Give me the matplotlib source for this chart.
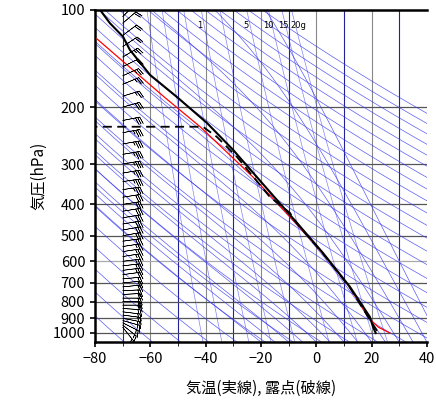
import numpy as np
import matplotlib
matplotlib.use("Agg")
import matplotlib.pyplot as plt

plt.rcParams['font.family'] = ['Noto Sans CJK JP', 'DejaVu Sans']

# sounding
temp_p = [1000, 956, 892, 720, 565, 456, 329, 271, 224, 186, 159, 133, 121, 110, 100]
temp_t = [21.5, 20.5, 19.4, 12.2, 2.4, -7.0, -21.5, -30.1, -39.5, -50.4, -60.1, -67.4, -69.9, -74.6, -78.2]
dew_p = [985, 910, 720, 565, 456, 425, 379, 285, 247, 230, 230]
dew_t = [22.0, 19.4, 12.0, 2.2, -7.2, -9.5, -16.8, -28.7, -36.0, -41.0, -80.0]
parcel_p = [1000, 960, 900, 720, 565, 456, 329, 230, 186, 123]
parcel_t = [26.6, 22.5, 19.0, 12.0, 2.2, -7.5, -22.9, -42.0, -55.0, -79.3]
# wind barbs (kt)
wind_p = [960, 945, 930, 915, 900, 880, 860, 840, 820, 800, 780, 760, 740, 720, 700, 680, 660,
          640, 620, 600, 580, 560, 540, 520, 500, 480, 460, 440, 420, 400, 380, 360, 340, 320,
          300, 280, 260, 240, 220, 200, 185, 170, 160, 150, 140, 130, 120, 110, 105]
wind_u = [-8, -10, -12, -14, -15, -15, -16, -16, -17, -18, -18, -18, -20, -20, -20, -22, -22,
          -24, -24, -25, -25, -26, -26, -28, -28, -28, -30, -30, -30, -32, -32, -34, -34, -35,
          -35, -35, -34, -32, -30, -28, -26, -24, -22, -20, -20, -18, -16, -14, -12]
wind_v = [10, 8, 6, 4, 3, 2, 2, 1, 0, 0, 0, -1, -1, -2, -2, -2, -3, -3, -3, -3, -4, -4, -4, -4,
          -5, -5, -5, -5, -5, -5, -5, -5, -5, -6, -6, -6, -6, -6, -6, -8, -8, -10, -10, -10,
          -12, -12, -12, -12, -12]
mix_labels = ['1', '5', '10', '15', '20g']
mix_label_t = [-42, -25.5, -17.5, -12, -6.5]

fig = plt.figure(figsize=(4.36, 4.11), dpi=100)
ax = fig.add_axes([0.218, 0.168, 0.761, 0.808])
ax.set_yscale('log')
ax.set_xlim(-80, 40)
ax.set_ylim(1066, 100)

pp = np.logspace(np.log10(100), np.log10(1066), 200)

# dry adiabats
for th in np.arange(200, 500, 10):
    ax.plot(th * (pp / 1000.0) ** 0.286 - 273.15, pp, color='#3333ee', lw=0.5, alpha=0.8)

def es(t):
    return 6.112 * np.exp(17.67 * t / (t + 243.5))

# moist adiabats
def moist(t0):
    ps = np.linspace(1066, 100, 400)
    ts = [t0]
    for i in range(1, len(ps)):
        t = ts[-1]
        tk = t + 273.15
        rs = 0.622 * es(t) / (ps[i - 1] - es(t))
        num = 287 * tk + 2.5e6 * rs
        den = 1004 + 2.5e6 ** 2 * rs * 0.622 / (287 * tk ** 2)
        ts.append(t + num / den / ps[i - 1] * (ps[i] - ps[i - 1]))
    return np.array(ts), ps

for t0 in np.arange(-20, 50, 5):
    ts, ps = moist(t0)
    ax.plot(ts, ps, color='#3333ee', lw=0.5, alpha=0.8)

# mixing ratio lines
for w in [0.1, 0.2, 0.5, 1, 2, 5, 10, 15, 20]:
    e = w * pp / (622 + w)
    lg = np.log(e / 6.112)
    ax.plot(243.5 * lg / (17.67 - lg), pp, color='#3333ee', lw=0.5, alpha=0.6)
for lab, t in zip(mix_labels, mix_label_t):
    ax.text(t, 112, lab, fontsize=6, ha='center', va='center', family='DejaVu Sans')

# grid
for i, x in enumerate(range(-70, 40, 10)):
    ax.axvline(x, color='#222299' if i % 2 == 0 else '#888888', lw=0.8, zorder=1)
for p in range(200, 1100, 100):
    ax.axhline(p, color='#555555' if p != 600 else '#aaaaaa', lw=0.9, zorder=1)

ax.plot(parcel_t, parcel_p, color='red', lw=0.9, zorder=4)
ax.plot(temp_t, temp_p, color='black', lw=1.5, zorder=5)
ax.plot(dew_t, dew_p, color='black', lw=1.3, ls=(0, (5, 3)), zorder=5)
ax.barbs(np.full(len(wind_p), -70), wind_p, wind_u, wind_v, length=5, lw=0.4, zorder=6)

ax.set_yticks([100, 200, 300, 400, 500, 600, 700, 800, 900, 1000])
ax.set_yticklabels(['100', '200', '300', '400', '500', '600', '700', '800', '900', '1000'])
ax.yaxis.set_minor_locator(matplotlib.ticker.NullLocator())
ax.set_xticks(range(-80, 41, 20))
ax.set_xticks(range(-70, 40, 20), minor=True)
ax.tick_params(labelsize=10.5, direction='out', width=1.2)
ax.tick_params(which='minor', direction='out', length=3)
for s in ['left', 'bottom', 'top']:
    ax.spines[s].set_linewidth(1.8)
ax.spines['right'].set_visible(False)
ax.set_ylabel('気圧(hPa)', fontsize=11)
ax.set_xlabel('気温(実線), 露点(破線)', fontsize=11, labelpad=10)

fig.savefig('out.png', dpi=100)
